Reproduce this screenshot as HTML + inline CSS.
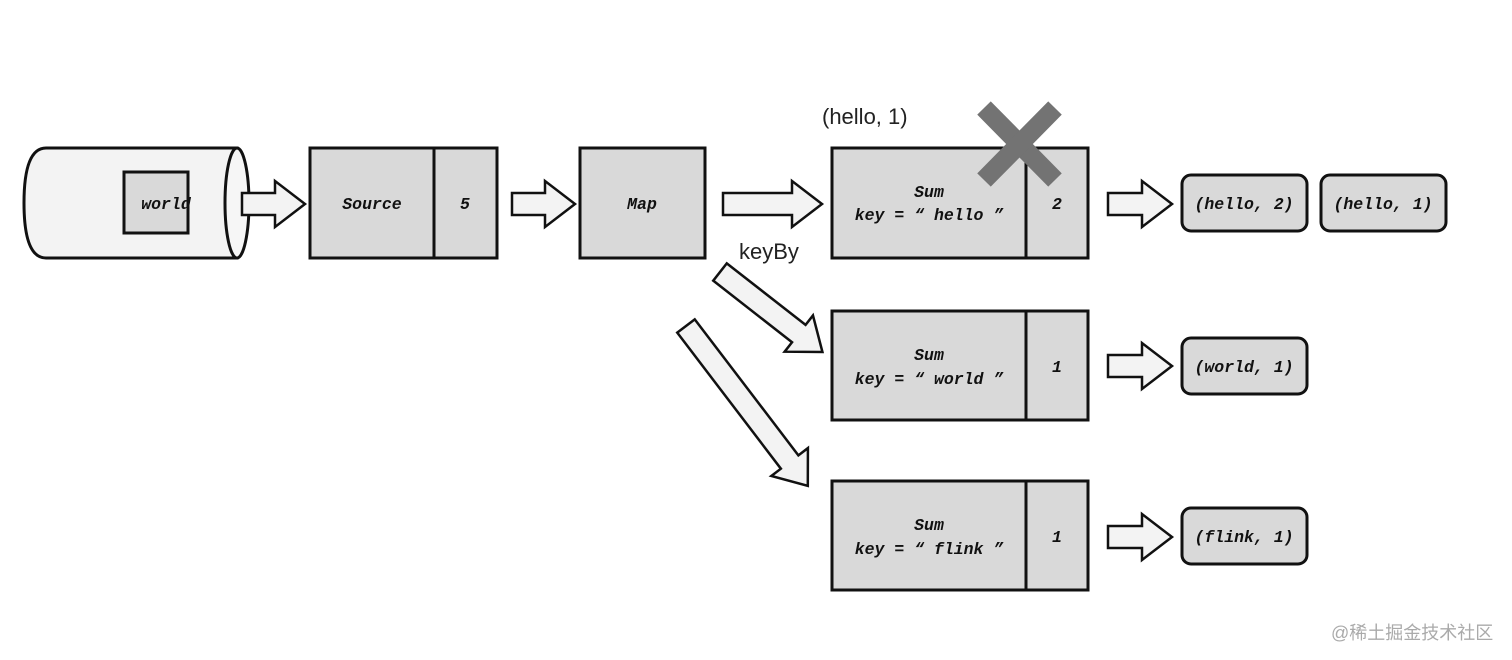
<!DOCTYPE html>
<html><head><meta charset="utf-8"><style>
html,body{margin:0;padding:0;background:#fff;}
svg{display:block;}
.m{font-family:"Liberation Mono",monospace;font-style:italic;font-weight:bold;font-size:16.5px;fill:#111;}
.s{font-family:"Liberation Sans",sans-serif;font-size:22px;fill:#222;}
</style></head><body>
<svg width="1512" height="660" viewBox="0 0 1512 660" xmlns="http://www.w3.org/2000/svg">
<g stroke="#111" stroke-width="3" stroke-linejoin="miter">
<path d="M46,148 L237,148 L237,258 L46,258 Q24,258 24,203 Q24,148 46,148 Z" fill="#f3f3f3"/>
<ellipse cx="237" cy="203" rx="12" ry="55" fill="#f6f6f6"/>
<rect x="124" y="172" width="64" height="61" fill="#d9d9d9"/>
<rect x="310" y="148" width="187" height="110" fill="#d9d9d9"/>
<line x1="434" y1="148" x2="434" y2="258"/>
<rect x="580" y="148" width="125" height="110" fill="#d9d9d9"/>
<rect x="832" y="148" width="256" height="110" fill="#d9d9d9"/>
<line x1="1026" y1="148" x2="1026" y2="258"/>
<rect x="832" y="311" width="256" height="109" fill="#d9d9d9"/>
<line x1="1026" y1="311" x2="1026" y2="420"/>
<rect x="832" y="481" width="256" height="109" fill="#d9d9d9"/>
<line x1="1026" y1="481" x2="1026" y2="590"/>
<rect x="1182" y="175" width="125" height="56" rx="9" fill="#d9d9d9"/>
<rect x="1321" y="175" width="125" height="56" rx="9" fill="#d9d9d9"/>
<rect x="1182" y="338" width="125" height="56" rx="9" fill="#d9d9d9"/>
<rect x="1182" y="508" width="125" height="56" rx="9" fill="#d9d9d9"/>
</g>
<g stroke="#111" stroke-width="2.5" fill="#f3f3f3" stroke-linejoin="miter">
<path d="M242,193 L275,193 L275,181 L305,204 L275,227 L275,215 L242,215 Z"/>
<path d="M512,193 L545,193 L545,181 L575,204 L545,227 L545,215 L512,215 Z"/>
<path d="M723,193 L792,193 L792,181 L822,204 L792,227 L792,215 L723,215 Z"/>
<path d="M1108,193 L1142,193 L1142,181 L1172,204 L1142,227 L1142,215 L1108,215 Z"/>
<path d="M1108,355 L1142,355 L1142,343 L1172,366 L1142,389 L1142,377 L1108,377 Z"/>
<path d="M1108,526 L1142,526 L1142,514 L1172,537 L1142,560 L1142,548 L1108,548 Z"/>
<g transform="translate(720,272) rotate(38)">
<path d="M0,-11 L100,-11 L100,-23 L130,0 L100,23 L100,11 L0,11 Z"/>
</g>
<g transform="translate(686,326) rotate(52.7)">
<path d="M0,-11 L171,-11 L171,-23 L201,0 L171,23 L171,11 L0,11 Z"/>
</g>
</g>
<g stroke="#737373" stroke-width="19">
<line x1="984" y1="108" x2="1055" y2="180"/>
<line x1="1055" y1="108" x2="984" y2="180"/>
</g>
<g class="m" text-anchor="middle">
<text x="166" y="209">world</text>
<text x="372" y="209">Source</text>
<text x="465" y="209">5</text>
<text x="642" y="209">Map</text>
<text x="929" y="197">Sum</text>
<text x="929" y="220">key = “ hello ”</text>
<text x="1057" y="209">2</text>
<text x="929" y="360">Sum</text>
<text x="929" y="384">key = “ world ”</text>
<text x="1057" y="372">1</text>
<text x="929" y="530">Sum</text>
<text x="929" y="554">key = “ flink ”</text>
<text x="1057" y="542">1</text>
<text x="1244" y="209">(hello, 2)</text>
<text x="1383" y="209">(hello, 1)</text>
<text x="1244" y="372">(world, 1)</text>
<text x="1244" y="542">(flink, 1)</text>
</g>
<text class="s" x="822" y="124">(hello, 1)</text>
<text class="s" x="739" y="259">keyBy</text>
<text x="1331" y="639" font-family="Liberation Sans, 'Noto Sans CJK SC', sans-serif" font-size="18" fill="#aaa">@稀土掘金技术社区</text>
</svg>
</body></html>
